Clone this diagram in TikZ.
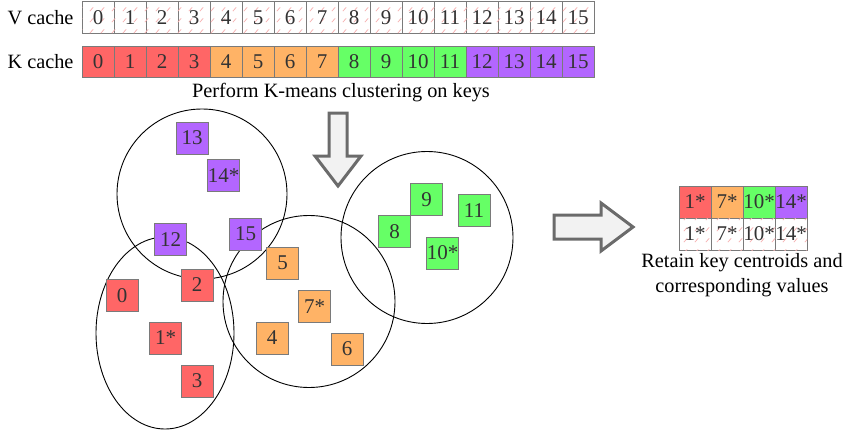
\documentclass[tikz,border=0pt]{standalone}
\usepackage{fontspec}
\setmainfont{Liberation Serif}
\usetikzlibrary{patterns.meta,shapes.geometric}
\definecolor{kred}{HTML}{FF6666}
\definecolor{korange}{HTML}{FFB366}
\definecolor{kgreen}{HTML}{66FF66}
\definecolor{kpurple}{HTML}{B366FF}
\definecolor{cellborder}{HTML}{7A7A7A}
\definecolor{txt}{HTML}{333333}
\definecolor{hatchpink}{HTML}{F7B2B2}
\definecolor{arrowgray}{HTML}{6B6B6B}
\definecolor{arrowfill}{HTML}{F2F2F2}
\tikzdeclarepattern{
  name=vhatch, type=uncolored,
  bottom left={(0pt,0pt)}, top right={(11pt,11pt)}, tile size={(11pt,11pt)},
  code={\draw[line width=0.8pt] (2pt,2pt) -- (5.5pt,6pt);}
}
\tikzset{
  cell/.style={draw=cellborder, line width=1pt, minimum width=32pt, minimum height=32pt,
    inner sep=0pt, text=txt, font=\fontsize{21}{21}\selectfont},
  vcell/.style={cell, fill=white, postaction={pattern={vhatch}, pattern color=hatchpink}},
  rcell/.style={cell, fill=kred},
  ocell/.style={cell, fill=korange},
  gcell/.style={cell, fill=kgreen},
  pcell/.style={cell, fill=kpurple},
  lbl/.style={font=\fontsize{20.3}{25}\selectfont, text=black, inner sep=0pt, align=center},
  blockarrow/.style={draw=arrowgray, line width=3pt, fill=arrowfill, line join=miter},
  cluster/.style={draw=black, line width=0.9pt, inner sep=0pt}
}
\begin{document}
\begin{tikzpicture}[x=1pt,y=-1pt]
\useasboundingbox (0,0) rectangle (847,431);
% caches
\node[lbl] (vlabel) at (40.5,18) {V cache};
\node[lbl] (klabel) at (40.5,62) {K cache};
\foreach \i in {0,...,15}{
  \node[vcell] (v\i) at ({98+32*\i},17.5) {\i};
}
\foreach \i/\s in {0/rcell,1/rcell,2/rcell,3/rcell,4/ocell,5/ocell,6/ocell,7/ocell,
                  8/gcell,9/gcell,10/gcell,11/gcell,12/pcell,13/pcell,14/pcell,15/pcell}{
  \node[\s, minimum height=31pt] (k\i) at ({98+32*\i},61.5) {\i};
}
\node[lbl] (perform) at (341,93) {Perform K-means clustering on keys};
% down arrow
\draw[blockarrow] (329,113) -- (347,113) -- (347,156) -- (361,156) -- (338,186)
  -- (315,156) -- (329,156) -- cycle;
% clusters
\node[cluster, circle, minimum size=170pt] (cpurple) at (202,194) {};
\node[cluster, ellipse, minimum width=138pt, minimum height=192pt] (cred) at (165,333) {};
\node[cluster, circle, minimum size=172pt] (corange) at (309,301.5) {};
\node[cluster, circle, minimum size=172pt] (cgreen) at (427,237.5) {};
% purple
\node[pcell] (p13) at (192,138) {13};
\node[pcell] (p14) at (223.5,175.5) {14*};
\node[pcell] (p12) at (170.5,239.5) {12};
\node[pcell] (p15) at (245.5,234) {15};
% red
\node[rcell] (r2) at (197,285) {2};
\node[rcell] (r0) at (122,295.5) {0};
\node[rcell] (r1) at (165.5,338) {1*};
\node[rcell] (r3) at (197,381) {3};
% orange
\node[ocell] (o5) at (282.5,263) {5};
\node[ocell] (o7) at (314.5,306.5) {7*};
\node[ocell] (o4) at (272,338) {4};
\node[ocell] (o6) at (347,349) {6};
% green
\node[gcell] (g9) at (426.5,199.5) {9};
\node[gcell] (g8) at (394.5,231.5) {8};
\node[gcell] (g11) at (474,210.5) {11};
\node[gcell] (g10) at (442.5,253) {10*};
% right arrow
\draw[blockarrow] (554,215) -- (601,215) -- (601,203) -- (633,227) -- (601,251)
  -- (601,239) -- (554,239) -- cycle;
% result
\node[rcell] (rk1) at (695,202) {1*};
\node[ocell] (rk7) at (727,202) {7*};
\node[gcell] (rk10) at (759,202) {10*};
\node[pcell] (rk14) at (791,202) {14*};
\node[vcell] (rv1) at (695,234) {1*};
\node[vcell] (rv7) at (727,234) {7*};
\node[vcell] (rv10) at (759,234) {10*};
\node[vcell] (rv14) at (791,234) {14*};
\node[lbl] (retain) at (742,275) {Retain key centroids and\\corresponding values};
\end{tikzpicture}
\end{document}
